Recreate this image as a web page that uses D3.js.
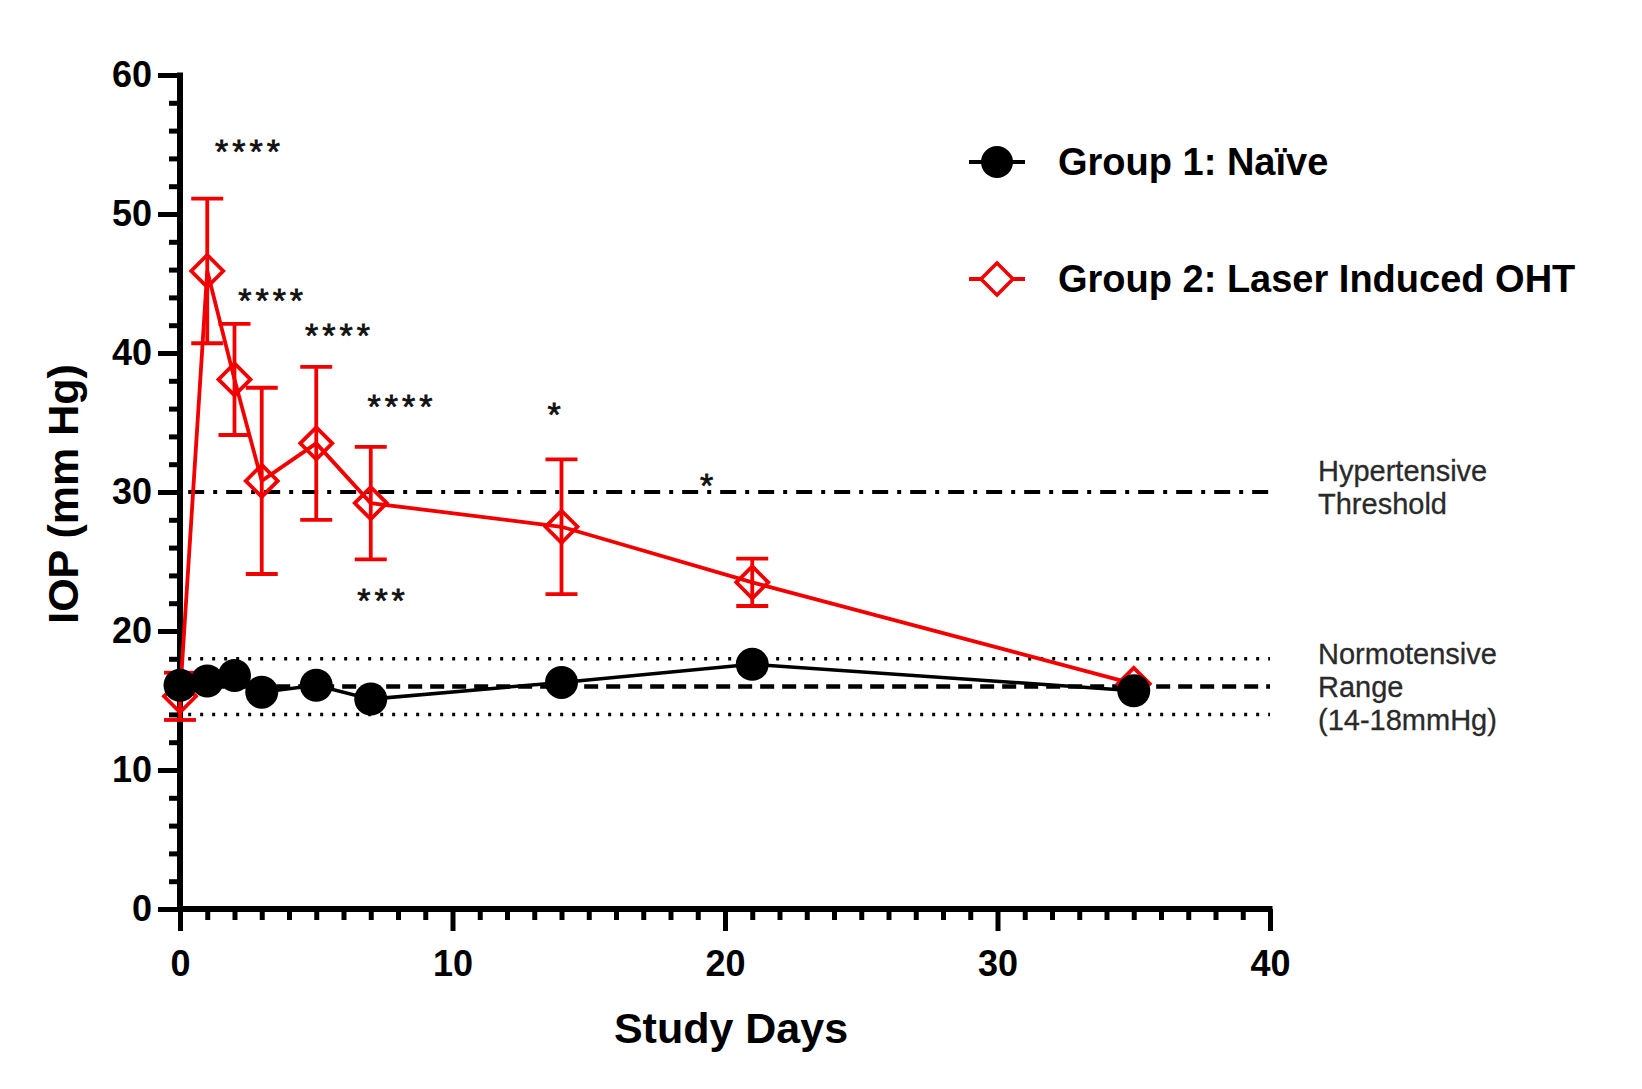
<!DOCTYPE html>
<html><head><meta charset="utf-8">
<script src="https://cdn.jsdelivr.net/npm/d3@7"></script>
<style>
body{margin:0;background:#fff;}
svg{display:block;}
text{font-family:"Liberation Sans",Arial,sans-serif;}
</style></head>
<body>
<svg id="chart" width="1642" height="1089"></svg>
<script>
// ---- data ----
const days = [0, 1, 2, 3, 5, 7, 14, 21, 35];
const naiveMean = [16.1, 16.4, 16.8, 15.6, 16.1, 15.1, 16.3, 17.6, 15.7];
const ohtMean = [15.3, 45.9, 38.1, 30.8, 33.5, 29.2, 27.5, 23.5, 16.2];
const ohtErr = [1.7, 5.2, 4.0, 6.7, 5.5, 4.05, 4.85, 1.7, 0];
const yTicks = [0, 10, 20, 30, 40, 50, 60];
const xTicks = [0, 10, 20, 30, 40];
const seriesNames = ["Group 1: Naïve", "Group 2: Laser Induced OHT"];
const refLevels = [30, 18, 16, 14];
const refLabels = [["Hypertensive", "Threshold"], ["Normotensive", "Range", "(14-18mmHg)"]];
const sigLabels = ["****", "****", "****", "****", "*", "*", "***"];
const sigDays = [2.55, 3.4, 5.85, 8.15, 13.8, 19.4, 7.45];
const sigVals = [54.8, 44.1, 41.6, 36.5, 35.9, 30.8, 22.5];

const RED = "#f20000";
const svg = d3.select("#chart");
const x = d3.scaleLinear().domain([0, 40]).range([180, 1270]);
const y = d3.scaleLinear().domain([0, 60]).range([909, 75]);

// reference lines
const refStyle = {
  30: {dash: "16 9 4 9", w: 4},
  18: {dash: "3 9", w: 3.5},
  14: {dash: "3 9", w: 3.5},
  16: {dash: "14 8", w: 4.5}
};
svg.append("g").selectAll("line").data(refLevels).join("line")
  .attr("x1", x(0.3)).attr("x2", x(40))
  .attr("y1", d => y(d)).attr("y2", d => y(d))
  .attr("stroke", "#000")
  .attr("stroke-width", d => refStyle[d].w)
  .attr("stroke-dasharray", d => refStyle[d].dash);

// right labels
const rl = svg.append("g").attr("fill", "#2a2a2a").attr("font-size", 29)
  .attr("stroke", "#2a2a2a").attr("stroke-width", 0.3);
rl.append("text").attr("y", y(30) - 11)
  .selectAll("tspan").data(refLabels[0]).join("tspan")
  .attr("x", 1318).attr("dy", (d, i) => i ? 33 : 0).text(d => d);
rl.append("text").attr("y", y(16) - 23)
  .selectAll("tspan").data(refLabels[1]).join("tspan")
  .attr("x", 1318).attr("dy", (d, i) => i ? 33 : 0).text(d => d);

// axes
const yAxisMajor = d3.axisLeft(y).tickValues(yTicks).tickSize(22).tickPadding(6);
const yAxisMinor = d3.axisLeft(y).tickValues(d3.range(0, 61, 2).filter(v => v % 10)).tickSize(11).tickFormat("");
const xAxisMajor = d3.axisBottom(x).tickValues(xTicks).tickSize(22).tickPadding(19);
const xAxisMinor = d3.axisBottom(x).tickValues(d3.range(0, 41, 1).filter(v => v % 10)).tickSize(11).tickFormat("");

function styleAxis(g) {
  g.select(".domain").remove();
  g.selectAll(".tick line").attr("stroke", "#000").attr("stroke-width", 5);
  g.selectAll(".tick text").attr("fill", "#000").attr("font-size", 36).attr("font-weight", "bold")
    .attr("font-family", "'Liberation Sans', Arial, sans-serif");
}
svg.append("g").attr("transform", "translate(180,0)").call(yAxisMinor).call(styleAxis);
svg.append("g").attr("transform", "translate(180,0)").call(yAxisMajor).call(styleAxis);
svg.append("g").attr("transform", "translate(0,909)").call(xAxisMinor).call(styleAxis);
svg.append("g").attr("transform", "translate(0,909)").call(xAxisMajor).call(styleAxis);
// axis lines
svg.append("line").attr("x1", x(0)).attr("x2", x(0)).attr("y1", y(60) - 2.5).attr("y2", y(0) + 2.5)
  .attr("stroke", "#000").attr("stroke-width", 6);
svg.append("line").attr("x1", x(0) - 3).attr("x2", x(40) + 2.5).attr("y1", y(0)).attr("y2", y(0))
  .attr("stroke", "#000").attr("stroke-width", 6);

// axis titles
svg.append("text").attr("transform", `translate(78,${(y(0)+y(60))/2 + 2}) rotate(-90)`)
  .attr("text-anchor", "middle").attr("font-size", 43).attr("font-weight", "bold").text("IOP (mm Hg)");
svg.append("text").attr("x", x(20) + 6).attr("y", 1043)
  .attr("text-anchor", "middle").attr("font-size", 43).attr("font-weight", "bold").text("Study Days");

// OHT series
const ohtData = days.map((d, i) => ({d, v: ohtMean[i], e: ohtErr[i]}));
const line = d3.line().x(p => x(p.d)).y(p => y(p.v));
svg.append("path").datum(ohtData).attr("d", line).attr("fill", "none")
  .attr("stroke", RED).attr("stroke-width", 3.8);
const eb = svg.append("g").attr("stroke", RED).attr("stroke-width", 3.8);
ohtData.filter(p => p.e > 0).forEach(p => {
  eb.append("line").attr("x1", x(p.d)).attr("x2", x(p.d)).attr("y1", y(p.v + p.e)).attr("y2", y(p.v - p.e));
  [p.v + p.e, p.v - p.e].forEach(v => eb.append("line")
    .attr("x1", x(p.d) - 16).attr("x2", x(p.d) + 16).attr("y1", y(v)).attr("y2", y(v)));
});
const diamond = "M0,-16L16,0L0,16L-16,0Z";
svg.append("g").selectAll("path").data(ohtData).join("path")
  .attr("transform", p => `translate(${x(p.d)},${y(p.v)})`)
  .attr("d", diamond).attr("fill", "none").attr("stroke", RED).attr("stroke-width", 3.8);

// naive series
const naiveData = days.map((d, i) => ({d, v: naiveMean[i]}));
svg.append("path").datum(naiveData).attr("d", line).attr("fill", "none")
  .attr("stroke", "#000").attr("stroke-width", 3.5);
svg.append("g").selectAll("circle").data(naiveData).join("circle")
  .attr("cx", p => x(p.d)).attr("cy", p => y(p.v)).attr("r", 16.5).attr("fill", "#000");

// significance marks
svg.append("g").selectAll("text").data(sigLabels).join("text")
  .attr("x", (d, i) => x(sigDays[i])).attr("y", (d, i) => y(sigVals[i]) + 16)
  .attr("text-anchor", "middle").attr("font-size", 34).attr("letter-spacing", 4)
  .attr("fill", "#111").attr("stroke", "#111").attr("stroke-width", 0.8).text(d => d);

// legend
const lg = svg.append("g");
const ly = [162, 279];
ly.forEach((yy, i) => {
  lg.append("line").attr("x1", 969).attr("x2", 1025).attr("y1", yy).attr("y2", yy)
    .attr("stroke", i ? RED : "#000").attr("stroke-width", 4);
  if (i === 0) lg.append("circle").attr("cx", 997).attr("cy", yy).attr("r", 16).attr("fill", "#000");
  else lg.append("path").attr("transform", `translate(997,${yy})`).attr("d", diamond)
    .attr("fill", "#fff").attr("stroke", RED).attr("stroke-width", 3.5);
  lg.append("text").attr("x", 1058).attr("y", yy + 13).attr("font-size", 38).attr("font-weight", "bold")
    .text(seriesNames[i]);
});
</script>
</body></html>
